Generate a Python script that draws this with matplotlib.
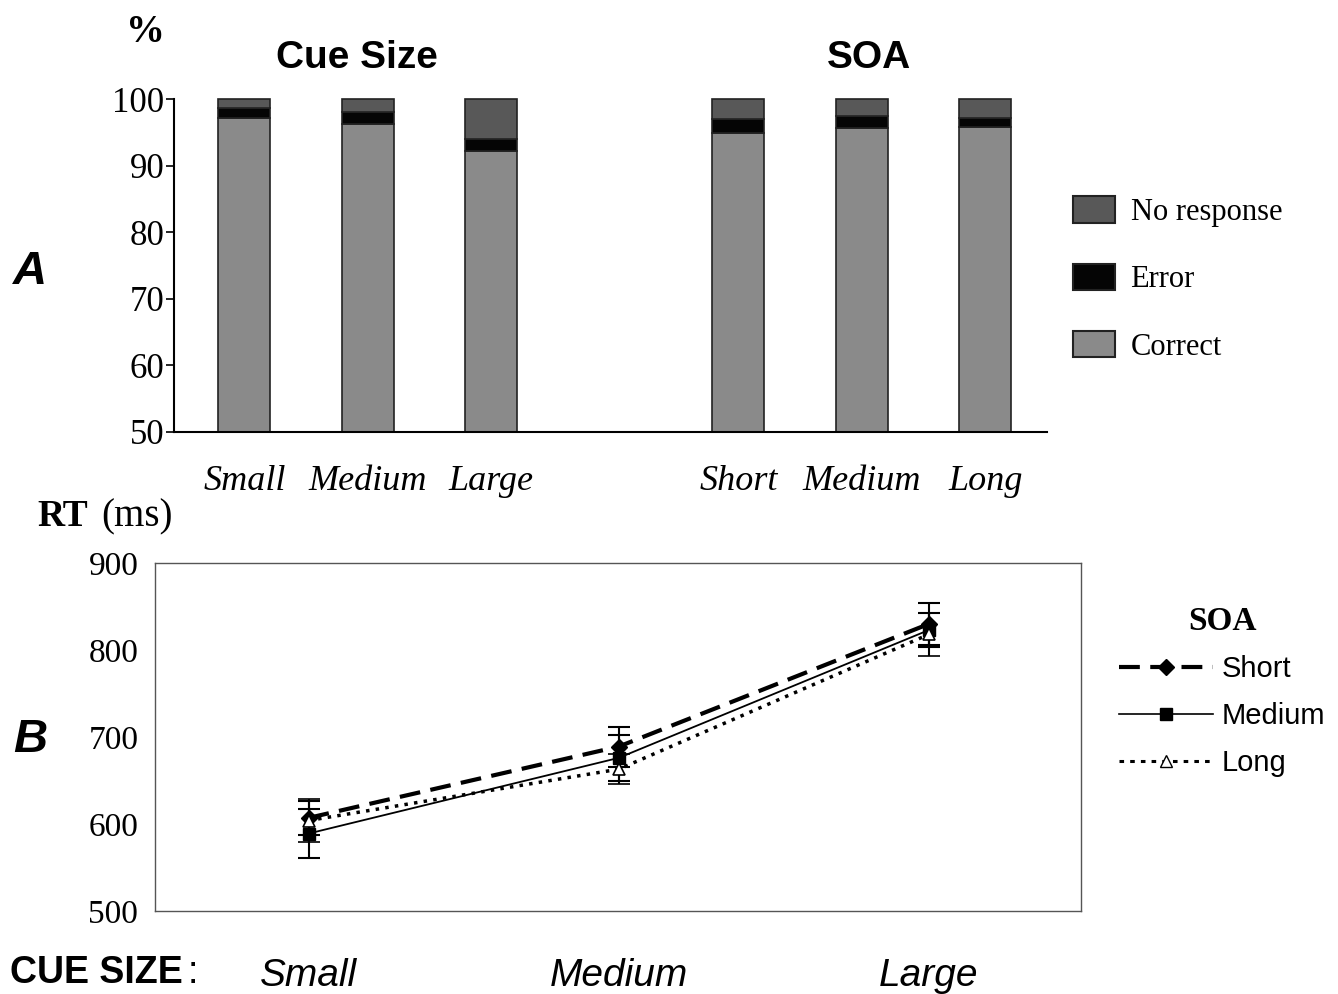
import numpy as np
import matplotlib.pyplot as plt
from matplotlib.patches import Patch
from matplotlib.lines import Line2D

# 数据：A 部分（百分比）
cats_a = ['Small', 'Medium', 'Large', 'Short', 'Medium', 'Long']
correct = [97.2, 96.3, 92.2, 94.9, 95.6, 95.8]
error = [1.5, 1.8, 1.8, 2.1, 1.8, 1.3]
no_resp = [100 - c - e for c, e in zip(correct, error)]

# 数据：B 部分（RT, ms）
cue_sizes = ['Small', 'Medium', 'Large']
rt_short = [607, 689, 830]
rt_medium = [589, 676, 823]
rt_long = [604, 663, 818]
err_short = [20, 23, 24]
err_medium = [28, 26, 20]
err_long = [25, 17, 25]

serif = 'Liberation Serif'
sans = 'Liberation Sans'

fig = plt.figure(figsize=(13.38, 9.94), dpi=100)

# ---------- A ----------
ax1 = fig.add_axes([0.1300, 0.5654, 0.6525, 0.335])
xpos = np.array([0, 1, 2, 4, 5, 6])
w = 0.42
c_correct = '#8a8a8a'
c_err = '#050505'
c_nr = '#585858'
ax1.bar(xpos, correct, w, bottom=0, color=c_correct, edgecolor='#222222', lw=1.2)
ax1.bar(xpos, error, w, bottom=correct, color=c_err, edgecolor='#222222', lw=1.2, clip_on=False)
bot2 = [c + e for c, e in zip(correct, error)]
ax1.bar(xpos, no_resp, w, bottom=bot2, color=c_nr, edgecolor='#222222', lw=1.2, clip_on=False)
ax1.set_ylim(50, 100)
ax1.set_xlim(-0.57, 6.5)
ax1.set_yticks(range(50, 101, 10))
ax1.set_yticklabels([str(v) for v in range(50, 101, 10)], fontfamily=serif, fontsize=25)
ax1.set_xticks(xpos)
ax1.set_xticklabels(cats_a, fontfamily=serif, fontsize=26, style='italic')
ax1.tick_params(axis='x', length=0, pad=24)
ax1.tick_params(axis='y', length=6, width=1.2, pad=1)
for s in ['top', 'right']:
    ax1.spines[s].set_visible(False)
for s in ['left', 'bottom']:
    ax1.spines[s].set_linewidth(1.5)

fig.text(145 / 1338, 1 - 32 / 994, '%', fontfamily=serif, fontweight='bold', fontsize=28, ha='center', va='center')
fig.text(357 / 1338, 1 - 58 / 994, 'Cue Size', fontfamily=sans, fontweight='bold', fontsize=28, ha='center', va='center')
fig.text(869 / 1338, 1 - 58 / 994, 'SOA', fontfamily=sans, fontweight='bold', fontsize=28, ha='center', va='center')
fig.text(30 / 1338, 1 - 272 / 994, 'A', fontfamily=sans, fontweight='bold', style='italic', fontsize=34, ha='center', va='center')

handles_a = [Patch(facecolor=c_nr, edgecolor='#222222', lw=1.5, label='No response'),
             Patch(facecolor=c_err, edgecolor='#222222', lw=1.5, label='Error'),
             Patch(facecolor=c_correct, edgecolor='#222222', lw=1.5, label='Correct')]
fig.legend(handles=handles_a, loc='center left', bbox_to_anchor=(1045 / 1338, 1 - 279 / 994),
           frameon=False, prop={'family': serif, 'size': 22}, handlelength=1.4, handleheight=0.95,
           labelspacing=1.2, handletextpad=0.5)

# ---------- B ----------
ax2 = fig.add_axes([0.1158, 0.0835, 0.6921, 0.3501])
xb = np.arange(len(cue_sizes))
ax2.errorbar(xb, rt_short, yerr=err_short, color='black', lw=3, ls=(0, (5, 2.5)),
             marker='D', ms=8, capsize=8, elinewidth=1.5, capthick=1.5, label='Short')
ax2.errorbar(xb, rt_medium, yerr=err_medium, color='black', lw=1.3, ls='-',
             marker='s', ms=8, capsize=8, elinewidth=1.5, capthick=1.5, label='Medium')
ax2.errorbar(xb, rt_long, yerr=err_long, color='black', lw=2.5, ls=(0, (1, 1.8)),
             marker='^', ms=9, mfc='white', mec='black', mew=1.2, capsize=8, elinewidth=1.5,
             capthick=1.5, label='Long')
ax2.set_ylim(500, 900)
ax2.set_xlim(-0.495, 2.49)
ax2.set_yticks(range(500, 901, 100))
ax2.set_yticklabels([str(v) for v in range(500, 901, 100)], fontfamily=serif, fontsize=24)
ax2.tick_params(axis='y', length=0, pad=12)
ax2.set_xticks(xb)
ax2.set_xticklabels(cue_sizes, fontfamily=sans, fontsize=28, style='italic')
ax2.tick_params(axis='x', length=0, pad=34)
for s in ax2.spines.values():
    s.set_linewidth(1.0)
    s.set_color('#555555')

fig.text(37 / 1338, 1 - 517 / 994, 'RT', fontfamily=serif, fontweight='bold', fontsize=27, ha='left', va='center')
fig.text(101 / 1338, 1 - 517 / 994, '(ms)', fontfamily=serif, fontsize=28, ha='left', va='center')
fig.text(30 / 1338, 1 - 740 / 994, 'B', fontfamily=sans, fontweight='bold', style='italic', fontsize=34, ha='center', va='center')
fig.text(10 / 1338, 1 - 973 / 994, 'CUE SIZE', fontfamily=sans, fontweight='bold', fontsize=27, ha='left', va='center')
fig.text(188 / 1338, 1 - 973 / 994, ':', fontfamily=sans, fontsize=27, ha='left', va='center')

h_b = [Line2D([], [], color='black', lw=3, ls=(0, (5, 2.5)), marker='D', ms=8, label='Short'),
       Line2D([], [], color='black', lw=1.2, ls='-', marker='s', ms=8, label='Medium'),
       Line2D([], [], color='black', lw=2.2, ls=(0, (1.5, 2)), marker='^', ms=9, mfc='white', label='Long')]
leg = fig.legend(handles=h_b, loc='upper left', bbox_to_anchor=(1093 / 1338, 1 - 580 / 994),
                 frameon=False, prop={'family': sans, 'size': 21}, handlelength=3.2,
                 labelspacing=0.65, handletextpad=0.3, title='SOA')
leg.get_title().set_fontfamily(serif)
leg.get_title().set_fontweight('bold')
leg.get_title().set_fontsize(24)
leg._legend_box.sep = 13

fig.savefig('out.png', dpi=100)
